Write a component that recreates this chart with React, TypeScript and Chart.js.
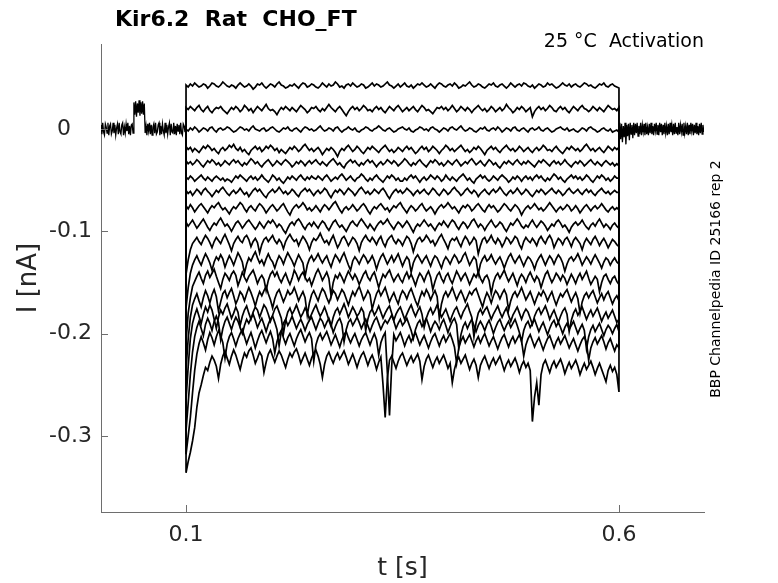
import { useEffect, useRef } from "react";
import { Chart, registerables } from "chart.js";

Chart.register(...registerables);

const FONT = "'DejaVu Sans', sans-serif";
const TEXT_COLOR = "#262626";
const AXIS_COLOR = "#6e6e6e";

const titleText = "Kir6.2  Rat  CHO_FT";
const conditionText = "25 °C  Activation";
const sideText = "BBP Channelpedia ID 25166 rep 2";

const xLimits = [0.0018, 0.6982];
const yLimits = [-0.3744, 0.0831];
const xTicks = [0.1, 0.6];
const xTickLabels = ["0.1", "0.6"];
const yTicks = [-0.3, -0.2, -0.1, 0];
const yTickLabels = ["-0.3", "-0.2", "-0.1", "0\u2007\u2008"];

// holding segments (pA), sampled every 1 ms, before and after the step
const holdPreSpan = [0.0018, 0.0988];
const holdPre = [
  4, -5, 6, -3, -6, 5, 2, -4, 6, -6, 3, 5, -5, -2, 6, -4, 4, -6, 1, 5,
  -5, 6, -3, -5, 4, 6, -6, 2, -4, 5, -2, 6, -5, 3, -6, 4, 5, -4,
  26, 14, 27, 12, 25, 16, 28, 13, 26, 15, 27, 14, 25,
  -4, 3, -6, 5, -2, 6, -5, 4, -6, 2, 5, -4, 6, -5, -3, 4, 6, -6, 3, -5,
  5, -2, -6, 6, -4, 4, -5, 2, 6, -6, 5, -3, -4, 6, -5, 3, -6, 5, -2, 4,
  -5, 6, -4, -6, 5, 3, -3,
];
const holdPostSpan = [0.6, 0.698];
const holdPost = [
  -4, 6, -10, 5, -13, 3, -8, 6, -15, 4, -7, 5, -11, 6, -5, 4, -9, 6, -6, 5,
  -4, 6, -7, 3, -5, 6, -6, 4, -3, 5, -6, 6, -5, 2, -6, 5, -4, 6, -5, 3,
  -6, 5, -2, 6, -5, 4, -6, 6, -3, 5, -6, 4, -5, 6, -4, 3, -6, 5, -5, 6,
  -3, 4, -6, 5, -5, 6, -4, 2, -6, 6, -5, 4, -3, 5, -6, 6, -4, 3, -5, 6,
  -6, 4, -5, 6, -2, 5, -6, 4, -4, 6, -5, 3, -6, 5, -4, 6, -5, 4, -3,
];

// step segments (pA), sampled every 2.5 ms from 0.1 s to 0.6 s
const stepSpan = [0.1, 0.6];
const trace01 = [
  43, 41, 44, 42, 45, 43, 41, 42, 44, 43, 40, 42, 45, 44, 42, 41, 43, 46, 44, 42,
  41, 43, 42, 40, 43, 45, 43, 41, 42, 44, 42, 39, 41, 44, 43, 45, 42, 40, 42, 44,
  43, 41, 44, 46, 43, 42, 40, 41, 43, 42, 44, 42, 40, 43, 45, 44, 41, 42, 44, 43,
  41, 40, 42, 45, 43, 41, 44, 42, 43, 46, 44, 41, 42, 40, 43, 44, 42, 45, 43, 41,
  42, 44, 43, 40, 41, 43, 45, 42, 44, 43, 41, 42, 44, 46, 43, 42, 40, 42, 44, 41,
  43, 45, 42, 41, 43, 40, 42, 44, 43, 45, 43, 41, 42, 44, 42, 40, 43, 45, 44, 42,
  41, 43, 44, 42, 45, 43, 40, 41, 43, 42, 44, 46, 43, 41, 42, 44, 43, 41, 40, 42,
  44, 43, 45, 42, 41, 43, 44, 42, 40, 42, 45, 43, 41, 43, 44, 42, 45, 44, 42, 41,
  43, 40, 42, 44, 43, 41, 42, 45, 43, 44, 42, 40, 41, 43, 45, 43, 42, 44, 41, 43,
  44, 42, 41, 43, 45, 44, 42, 43, 41, 40, 42, 44, 43, 45, 42, 41, 43, 44, 42, 41,
  40,
];
const trace02 = [
  21, 19, 22, 20, 18, 21, 23, 19, 17, 20, 22, 18, 16, 19, 21, 20, 22, 19, 17, 15,
  18, 21, 19, 22, 20, 17, 19, 23, 21, 18, 20, 16, 19, 22, 20, 18, 21, 24, 20, 18,
  19, 17, 14, 18, 21, 19, 22, 20, 18, 21, 19, 17, 20, 23, 21, 19, 16, 18, 21, 20,
  22, 19, 17, 20, 18, 21, 24, 21, 19, 17, 20, 22, 19, 16, 13, 17, 20, 22, 19, 21,
  18, 20, 23, 21, 18, 19, 17, 20, 22, 19, 21, 18, 16, 19, 22, 20, 18, 21, 23, 20,
  17, 19, 21, 18, 20, 22, 19, 17, 20, 23, 21, 18, 19, 17, 15, 18, 21, 20, 22, 19,
  21, 18, 20, 23, 20, 17, 19, 22, 20, 18, 21, 19, 16, 19, 21, 23, 20, 18, 20, 17,
  19, 22, 20, 17, 19, 21, 18, 20, 24, 21, 19, 16, 18, 21, 19, 22, 20, 17, 19, 21,
  12, 17, 20, 22, 19, 21, 18, 20, 23, 21, 18, 17, 20, 22, 19, 21, 18, 16, 19, 22,
  20, 18, 21, 23, 20, 19, 17, 19, 22, 20, 18, 21, 19, 17, 20, 23, 21, 19, 20, 18,
  21,
];
const trace03 = [
  0, -2, 1, -1, 2, 0, -3, -1, 1, 0, -2, 1, 2, -1, -3, 0, 1, -1, 0, 2,
  1, -1, -3, -2, 0, 2, 1, -1, 0, -2, 1, 3, 0, -1, -2, 0, 1, -2, -1, 1,
  2, 0, -2, -3, -1, 1, 0, 2, -1, -2, 0, 1, -1, -3, 0, 2, 1, -1, 0, -2,
  -1, 1, 3, 0, -2, -1, 1, 0, -2, 1, 2, -1, -3, -1, 0, 2, 0, -1, 1, -2,
  -3, -1, 0, 2, 1, -1, -2, 0, 1, 3, 1, -1, -2, 0, 1, -1, -3, -2, 0, 1,
  2, 0, -1, 1, -2, -3, -1, 0, 2, 1, -1, 0, -2, 1, 2, 0, -1, -3, -1, 1,
  0, -2, 1, 2, 0, -1, 1, 3, 0, -2, -1, 1, 0, -2, -3, -1, 1, 0, 2, -1,
  -2, 0, 1, -1, 2, 0, -3, -1, 1, 0, -2, 1, 2, -1, -2, 0, 1, -1, -3, 0,
  1, -1, 0, 2, -1, -2, 0, 1, -1, -3, -2, 0, 1, 2, 0, -1, 1, -2, -1, 0,
  -2, -3, -1, 1, 0, -2, 1, 2, 0, -1, -3, -2, 0, 1, -1, -2, 0, -3, -2, -1,
  -3,
];
const trace04 = [
  -17, -20, -18, -22, -19, -21, -23, -20, -17, -19, -16, -18, -21, -19, -22, -24, -20, -18, -21, -19,
  -16, -18, -15, -19, -21, -18, -22, -20, -23, -25, -21, -19, -17, -20, -18, -22, -20, -17, -19, -16,
  -18, -21, -19, -23, -20, -22, -24, -21, -18, -20, -17, -19, -22, -20, -17, -15, -18, -21, -19, -22,
  -20, -18, -21, -25, -22, -19, -21, -18, -20, -23, -27, -22, -19, -21, -18, -16, -19, -22, -20, -17,
  -19, -22, -24, -21, -18, -20, -17, -19, -21, -23, -20, -18, -16, -19, -22, -20, -23, -21, -18, -20,
  -22, -19, -17, -20, -18, -21, -24, -22, -19, -17, -20, -18, -22, -20, -17, -19, -21, -24, -21, -19,
  -16, -18, -21, -19, -22, -20, -18, -16, -19, -22, -20, -23, -21, -18, -20, -17, -19, -22, -25, -21,
  -19, -17, -20, -18, -21, -23, -20, -18, -16, -19, -21, -19, -22, -20, -17, -19, -22, -20, -18, -21,
  -23, -20, -18, -21, -19, -16, -18, -21, -20, -22, -19, -17, -20, -22, -24, -21, -18, -20, -17, -19,
  -21, -19, -22, -20, -17, -15, -18, -21, -19, -22, -20, -18, -21, -23, -20, -17, -19, -21, -18, -20,
  -18,
];
const trace05 = [
  -31, -34, -32, -35, -33, -30, -32, -35, -37, -34, -31, -33, -30, -32, -35, -33, -36, -34, -31, -33,
  -35, -32, -30, -33, -31, -34, -36, -33, -35, -32, -29, -31, -34, -32, -35, -37, -34, -32, -30, -33,
  -36, -34, -31, -33, -35, -32, -30, -32, -34, -37, -35, -32, -34, -31, -33, -36, -33, -31, -34, -32,
  -30, -33, -35, -32, -34, -36, -33, -31, -29, -32, -35, -33, -36, -38, -34, -32, -30, -33, -31, -34,
  -36, -33, -35, -32, -30, -33, -31, -34, -37, -34, -32, -35, -33, -30, -32, -34, -31, -33, -36, -34,
  -32, -29, -31, -34, -36, -33, -35, -32, -30, -33, -35, -37, -34, -31, -33, -30, -32, -35, -33, -36,
  -34, -31, -33, -35, -32, -30, -33, -36, -34, -32, -34, -31, -29, -32, -35, -33, -31, -34, -36, -33,
  -30, -32, -35, -33, -36, -38, -35, -32, -34, -31, -33, -35, -32, -30, -33, -35, -32, -34, -31, -33,
  -35, -37, -34, -31, -33, -30, -32, -34, -36, -33, -31, -34, -32, -35, -33, -30, -33, -35, -37, -34,
  -32, -34, -31, -33, -36, -34, -32, -30, -33, -35, -32, -34, -36, -33, -31, -33, -35, -33, -36, -34,
  -36,
];
const trace06 = [
  -47, -49, -46, -48, -51, -49, -47, -45, -48, -50, -47, -49, -51, -48, -46, -48, -50, -48, -51, -49,
  -50, -52, -49, -46, -48, -45, -47, -49, -51, -48, -46, -49, -47, -50, -48, -45, -48, -50, -52, -49,
  -45, -47, -50, -48, -51, -53, -50, -47, -49, -46, -48, -50, -47, -45, -48, -50, -47, -49, -46, -48,
  -49, -46, -48, -50, -47, -45, -48, -51, -49, -47, -49, -46, -44, -47, -50, -48, -46, -49, -51, -48,
  -47, -44, -46, -49, -51, -48, -50, -47, -45, -48, -50, -52, -49, -46, -48, -45, -47, -50, -48, -51,
  -51, -48, -50, -47, -45, -48, -46, -49, -52, -49, -47, -50, -48, -45, -47, -49, -46, -48, -51, -49,
  -45, -48, -50, -47, -49, -51, -48, -46, -44, -47, -50, -48, -51, -53, -49, -47, -45, -48, -46, -49,
  -51, -49, -46, -48, -50, -47, -45, -47, -49, -52, -50, -47, -49, -46, -48, -51, -48, -46, -49, -47,
  -50, -47, -45, -48, -46, -49, -51, -48, -50, -47, -44, -46, -49, -47, -50, -52, -49, -47, -45, -48,
  -46, -49, -47, -50, -48, -45, -47, -50, -52, -49, -46, -48, -45, -47, -50, -48, -51, -49, -46, -48,
  -48,
];
const trace07 = [
  -60, -63, -61, -65, -62, -59, -61, -64, -60, -58, -61, -63, -66, -63, -60, -62, -59, -57, -60, -63,
  -65, -62, -60, -63, -61, -58, -61, -64, -62, -66, -63, -60, -58, -61, -59, -62, -65, -67, -63, -61,
  -59, -62, -60, -57, -60, -63, -61, -64, -62, -59, -61, -64, -66, -62, -60, -58, -61, -59, -62, -65,
  -62, -60, -63, -61, -58, -60, -64, -67, -63, -60, -62, -59, -61, -64, -61, -58, -60, -62, -65, -62,
  -59, -57, -60, -63, -61, -64, -62, -59, -61, -63, -60, -58, -61, -65, -68, -64, -61, -59, -62, -60,
  -63, -61, -58, -60, -62, -65, -62, -60, -63, -61, -59, -62, -64, -61, -58, -60, -63, -65, -62, -59,
  -61, -64, -62, -59, -57, -60, -62, -65, -63, -60, -58, -61, -63, -60, -62, -66, -63, -61, -59, -62,
  -64, -61, -59, -62, -60, -57, -60, -63, -65, -62, -60, -63, -61, -58, -61, -64, -62, -59, -61, -64,
  -66, -63, -60, -62, -59, -61, -64, -62, -60, -58, -61, -63, -60, -62, -65, -63, -60, -58, -61, -63,
  -61, -59, -62, -64, -61, -59, -62, -60, -63, -65, -62, -60, -58, -61, -63, -61, -64, -62, -60, -62,
  -62,
];
const trace08 = [
  -75, -78, -74, -77, -81, -78, -75, -73, -76, -79, -82, -78, -75, -77, -74, -72, -76, -79, -77, -80,
  -83, -79, -76, -78, -75, -72, -74, -78, -81, -77, -75, -78, -80, -76, -73, -75, -78, -82, -79, -76,
  -74, -77, -80, -78, -75, -73, -77, -81, -84, -79, -76, -74, -77, -75, -72, -75, -79, -77, -80, -78,
  -75, -78, -81, -77, -74, -76, -79, -76, -73, -71, -75, -79, -82, -78, -76, -79, -77, -74, -77, -80,
  -78, -75, -73, -76, -80, -83, -79, -76, -78, -75, -73, -76, -79, -77, -81, -78, -75, -77, -74, -72,
  -76, -79, -82, -78, -75, -77, -80, -78, -75, -73, -77, -80, -78, -76, -79, -83, -79, -76, -74, -77,
  -75, -72, -75, -78, -76, -79, -82, -78, -75, -77, -74, -76, -80, -78, -75, -73, -76, -79, -81, -77,
  -74, -77, -75, -78, -81, -79, -76, -73, -75, -78, -80, -77, -74, -76, -79, -84, -80, -77, -75, -78,
  -76, -73, -76, -79, -77, -80, -78, -75, -72, -75, -78, -81, -78, -76, -79, -77, -74, -76, -80, -78,
  -75, -78, -82, -79, -76, -74, -77, -80, -77, -75, -78, -76, -73, -76, -79, -81, -78, -76, -79, -77,
  -79,
];
const trace09 = [
  -91, -95, -92, -89, -93, -97, -94, -91, -88, -92, -96, -99, -95, -92, -94, -90, -87, -91, -95, -93,
  -96, -100, -96, -92, -90, -93, -97, -94, -91, -89, -92, -95, -98, -95, -91, -94, -97, -93, -90, -92,
  -89, -92, -96, -93, -95, -99, -102, -97, -93, -91, -94, -90, -88, -91, -95, -98, -94, -92, -95, -91,
  -94, -97, -93, -90, -92, -96, -99, -95, -91, -89, -93, -96, -94, -97, -100, -96, -92, -90, -93, -95,
  -91, -88, -91, -94, -97, -93, -96, -99, -95, -92, -90, -93, -91, -88, -92, -95, -98, -94, -91, -93,
  -96, -93, -90, -93, -97, -101, -96, -93, -95, -92, -89, -92, -95, -93, -96, -99, -95, -92, -94, -90,
  -93, -96, -92, -89, -91, -95, -98, -94, -91, -93, -97, -94, -90, -88, -92, -96, -93, -95, -99, -95,
  -92, -89, -93, -96, -94, -91, -93, -97, -100, -96, -92, -94, -91, -88, -91, -95, -97, -94, -96, -92,
  -89, -93, -96, -93, -90, -92, -95, -99, -96, -93, -95, -91, -89, -92, -96, -94, -97, -101, -96, -93,
  -91, -94, -92, -89, -93, -96, -98, -94, -92, -95, -91, -88, -92, -96, -93, -95, -98, -94, -92, -95,
  -97,
];
const trace10 = [
  -142, -128, -118, -112, -109, -106, -110, -113, -108, -104, -107, -111, -116, -110, -106, -109, -112, -107, -103, -108,
  -113, -119, -112, -108, -105, -109, -111, -106, -104, -108, -115, -110, -107, -111, -121, -113, -108, -106, -110, -107,
  -104, -109, -112, -108, -111, -117, -110, -106, -103, -107, -110, -108, -114, -109, -105, -108, -112, -118, -111, -107,
  -109, -106, -102, -107, -111, -109, -113, -108, -104, -110, -116, -112, -107, -105, -109, -114, -110, -106, -108, -112,
  -119, -111, -107, -104, -108, -110, -106, -109, -113, -108, -105, -111, -115, -109, -106, -104, -109, -112, -108, -110,
  -114, -109, -105, -107, -112, -120, -113, -108, -106, -110, -108, -104, -107, -111, -109, -114, -110, -106, -103, -108,
  -112, -117, -110, -107, -109, -106, -111, -115, -109, -105, -108, -113, -110, -106, -109, -122, -114, -108, -106, -111,
  -108, -104, -109, -112, -107, -110, -115, -111, -106, -108, -112, -109, -105, -107, -113, -117, -110, -106, -109, -111,
  -107, -110, -114, -108, -105, -109, -112, -107, -104, -108, -116, -111, -107, -109, -113, -108, -106, -110, -115, -109,
  -106, -109, -112, -118, -111, -107, -110, -113, -108, -105, -109, -114, -110, -107, -111, -116, -112, -108, -110, -113,
  -115,
];
const trace11 = [
  -175, -155, -141, -133, -128, -124, -129, -133, -127, -122, -126, -131, -138, -130, -125, -128, -123, -127, -135, -129,
  -124, -128, -133, -127, -121, -125, -130, -141, -132, -126, -129, -124, -120, -126, -131, -128, -133, -127, -122, -127,
  -130, -136, -129, -124, -127, -132, -126, -121, -125, -129, -134, -128, -123, -127, -131, -144, -133, -127, -124, -129,
  -126, -122, -127, -131, -127, -124, -130, -135, -128, -123, -126, -130, -125, -121, -127, -133, -138, -129, -125, -128,
  -132, -127, -123, -126, -131, -128, -124, -129, -137, -130, -125, -122, -127, -132, -128, -124, -130, -126, -122, -128,
  -134, -129, -125, -128, -140, -131, -126, -123, -127, -131, -127, -124, -129, -134, -128, -124, -126, -131, -136, -129,
  -125, -128, -132, -127, -123, -126, -131, -129, -124, -121, -127, -133, -129, -125, -128, -142, -132, -127, -124, -129,
  -127, -123, -128, -132, -128, -125, -130, -136, -130, -125, -122, -127, -131, -127, -124, -129, -134, -129, -125, -127,
  -131, -137, -130, -126, -123, -128, -133, -128, -124, -127, -132, -127, -123, -126, -131, -139, -132, -127, -125, -129,
  -126, -122, -127, -133, -129, -125, -128, -132, -127, -123, -127, -131, -136, -130, -126, -128, -133, -129, -126, -130,
  -132,
];
const trace12 = [
  -208, -180, -165, -154, -149, -144, -140, -146, -151, -143, -139, -145, -141, -137, -144, -150, -156, -147, -141, -144,
  -148, -142, -139, -143, -153, -147, -140, -145, -149, -144, -141, -138, -144, -151, -146, -143, -147, -158, -148, -142,
  -139, -144, -140, -146, -150, -145, -141, -147, -152, -146, -138, -142, -148, -143, -140, -145, -149, -146, -153, -147,
  -141, -137, -142, -148, -144, -140, -146, -163, -150, -143, -146, -141, -145, -150, -144, -139, -143, -147, -142, -146,
  -152, -147, -142, -139, -145, -148, -143, -140, -147, -155, -148, -142, -145, -141, -138, -144, -149, -145, -142, -147,
  -150, -144, -140, -146, -142, -147, -153, -146, -141, -144, -149, -143, -139, -145, -157, -149, -143, -140, -146, -150,
  -144, -141, -147, -151, -145, -139, -143, -148, -144, -141, -146, -152, -147, -142, -145, -140, -146, -150, -145, -143,
  -148, -161, -150, -144, -141, -146, -142, -138, -144, -149, -145, -141, -147, -153, -146, -142, -145, -150, -144, -140,
  -145, -149, -144, -147, -155, -148, -142, -139, -145, -150, -146, -141, -144, -148, -143, -146, -152, -147, -142, -146,
  -151, -145, -141, -147, -143, -139, -146, -152, -148, -144, -147, -159, -150, -144, -142, -147, -151, -146, -144, -149,
  -152,
];
const trace13 = [
  -235, -205, -184, -172, -166, -161, -168, -174, -165, -158, -163, -170, -162, -157, -164, -178, -169, -161, -158, -165,
  -160, -156, -163, -171, -166, -159, -162, -168, -161, -155, -160, -166, -173, -165, -159, -163, -158, -154, -161, -167,
  -175, -166, -160, -157, -163, -169, -164, -158, -162, -160, -155, -161, -168, -163, -159, -165, -182, -170, -162, -158,
  -163, -168, -161, -156, -159, -165, -170, -164, -158, -161, -167, -162, -157, -160, -166, -172, -165, -159, -163, -158,
  -154, -160, -167, -163, -158, -162, -176, -168, -161, -157, -163, -159, -155, -162, -169, -164, -160, -166, -171, -163,
  -158, -161, -166, -160, -156, -162, -168, -173, -165, -159, -163, -157, -161, -167, -162, -158, -164, -185, -171, -163,
  -159, -164, -160, -155, -161, -167, -162, -158, -163, -169, -164, -159, -162, -158, -156, -162, -168, -174, -166, -160,
  -164, -170, -163, -158, -161, -166, -161, -157, -162, -177, -168, -162, -159, -164, -160, -155, -161, -167, -163, -159,
  -165, -171, -165, -160, -163, -158, -162, -168, -163, -159, -166, -172, -166, -161, -164, -160, -157, -163, -169, -164,
  -160, -166, -180, -169, -163, -160, -165, -161, -158, -164, -170, -165, -161, -167, -162, -159, -165, -171, -166, -163,
  -168,
];
const trace14 = [
  -265, -232, -205, -190, -182, -176, -183, -190, -181, -174, -179, -172, -177, -186, -195, -184, -177, -181, -175, -171,
  -178, -185, -180, -174, -179, -192, -183, -177, -173, -180, -186, -179, -174, -177, -184, -178, -172, -175, -181, -188,
  -182, -176, -173, -179, -185, -200, -187, -179, -175, -181, -177, -172, -178, -184, -180, -175, -179, -186, -181, -176,
  -172, -178, -183, -179, -174, -180, -187, -193, -184, -178, -175, -181, -176, -171, -177, -184, -179, -174, -178, -183,
  -180, -175, -179, -197, -186, -179, -176, -182, -178, -173, -179, -185, -180, -176, -173, -180, -187, -181, -177, -174,
  -180, -186, -181, -176, -172, -178, -183, -178, -174, -181, -194, -185, -179, -175, -181, -177, -172, -178, -184, -180,
  -176, -182, -188, -182, -177, -174, -180, -185, -179, -175, -171, -178, -184, -203, -189, -180, -176, -181, -177, -174,
  -180, -186, -181, -177, -173, -179, -184, -179, -175, -182, -188, -182, -178, -174, -180, -186, -180, -176, -179, -185,
  -191, -183, -178, -175, -181, -177, -173, -179, -186, -181, -177, -183, -189, -183, -178, -175, -181, -198, -187, -180,
  -176, -182, -178, -174, -180, -186, -181, -177, -183, -179, -175, -181, -188, -183, -179, -185, -181, -177, -183, -189,
  -186,
];
const trace15 = [
  -295, -268, -240, -218, -203, -194, -188, -195, -202, -191, -185, -190, -197, -188, -183, -189, -206, -195, -188, -184,
  -190, -196, -189, -184, -188, -194, -200, -192, -186, -190, -185, -181, -187, -194, -189, -185, -191, -198, -191, -186,
  -183, -189, -196, -212, -198, -190, -186, -192, -188, -183, -189, -195, -190, -186, -191, -197, -191, -187, -184, -190,
  -196, -190, -185, -188, -194, -189, -185, -191, -199, -193, -188, -185, -191, -208, -196, -189, -186, -192, -188, -184,
  -189, -195, -190, -186, -192, -198, -192, -187, -184, -190, -196, -191, -187, -190, -186, -182, -188, -195, -190, -186,
  -192, -189, -185, -191, -197, -205, -196, -190, -187, -193, -189, -185, -191, -198, -192, -188, -191, -196, -190, -186,
  -192, -199, -193, -188, -185, -191, -214, -201, -193, -189, -195, -190, -186, -192, -198, -192, -188, -192, -197, -191,
  -187, -193, -200, -194, -189, -186, -192, -197, -192, -188, -194, -190, -186, -192, -199, -208, -197, -191, -188, -194,
  -190, -186, -192, -198, -193, -189, -195, -201, -195, -190, -187, -193, -189, -194, -200, -194, -190, -196, -192, -188,
  -194, -200, -195, -191, -197, -215, -203, -196, -192, -198, -194, -190, -196, -202, -196, -192, -195, -200, -195, -191,
  -198,
];
const trace16 = [
  -318, -300, -282, -258, -236, -220, -210, -203, -209, -216, -206, -199, -204, -211, -203, -197, -202, -209, -224, -210,
  -203, -199, -205, -212, -205, -200, -196, -203, -210, -204, -199, -206, -214, -207, -201, -197, -203, -209, -203, -198,
  -205, -219, -208, -201, -197, -204, -210, -204, -200, -206, -212, -205, -200, -196, -202, -208, -203, -199, -205, -227,
  -211, -204, -200, -206, -202, -198, -204, -211, -206, -201, -207, -213, -206, -201, -198, -204, -209, -204, -200, -206,
  -212, -206, -202, -199, -205, -211, -205, -200, -206, -221, -209, -203, -199, -238, -280, -232, -201, -207, -203, -199,
  -205, -212, -206, -202, -208, -203, -199, -205, -211, -206, -202, -208, -214, -208, -203, -200, -206, -212, -206, -202,
  -208, -204, -200, -206, -213, -229, -214, -207, -203, -209, -205, -201, -207, -213, -207, -203, -209, -204, -200, -206,
  -212, -207, -203, -209, -215, -209, -204, -201, -207, -213, -207, -203, -209, -205, -201, -207, -222, -211, -205, -201,
  -207, -213, -208, -204, -210, -216, -210, -205, -202, -208, -214, -208, -204, -210, -206, -202, -208, -214, -209, -205,
  -211, -217, -211, -206, -203, -209, -226, -214, -208, -204, -210, -206, -202, -208, -215, -209, -205, -211, -217, -211,
  -214,
];
const trace17 = [
  -336, -325, -316, -305, -292, -272, -258, -250, -241, -233, -236, -228, -222, -226, -232, -244, -230, -222, -217, -224,
  -230, -222, -216, -221, -228, -235, -226, -219, -223, -217, -214, -221, -229, -224, -218, -222, -238, -228, -220, -216,
  -222, -228, -222, -217, -221, -227, -233, -225, -219, -223, -218, -215, -221, -229, -224, -219, -225, -231, -224, -219,
  -216, -222, -230, -243, -230, -222, -218, -224, -229, -223, -219, -225, -221, -217, -223, -230, -225, -220, -226, -233,
  -226, -221, -218, -224, -231, -225, -221, -227, -235, -228, -223, -250, -282, -244, -226, -222, -228, -234, -227, -222,
  -219, -225, -231, -226, -222, -228, -224, -220, -227, -245, -232, -225, -221, -227, -233, -227, -223, -229, -225, -221,
  -227, -234, -229, -248, -235, -227, -223, -229, -225, -221, -228, -235, -229, -225, -231, -243, -231, -226, -222, -228,
  -234, -228, -224, -230, -226, -222, -229, -236, -230, -226, -232, -228, -224, -230, -238, -231, -227, -233, -229, -236,
  -286, -262, -248, -270, -240, -230, -226, -232, -238, -231, -227, -233, -229, -225, -231, -239, -233, -228, -234, -230,
  -226, -232, -240, -234, -229, -235, -231, -227, -233, -240, -234, -229, -235, -241, -247, -236, -231, -237, -233, -240,
  -257,
];

const stepTraces = [
  trace01, trace02, trace03, trace04, trace05, trace06, trace07, trace08, trace09,
  trace10, trace11, trace12, trace13, trace14, trace15, trace16, trace17,
];

// pA values sampled evenly over [start, end] -> points in s / nA
function toPoints(vals: number[], span: number[]) {
  const dt = (span[1] - span[0]) / (vals.length - 1);
  return vals.map((v, i) => ({ x: span[0] + i * dt, y: v / 1000 }));
}

function stepPoints(vals: number[]) {
  return [
    { x: stepSpan[0], y: 0 },
    ...toPoints(vals, stepSpan),
    { x: stepSpan[1], y: 0 },
  ];
}

const annotations = {
  id: "annotations",
  afterDraw(chart: Chart) {
    const { ctx, chartArea } = chart;
    const xs = chart.scales.x;
    const ys = chart.scales.y;
    ctx.save();
    // inward tick marks
    ctx.strokeStyle = AXIS_COLOR;
    ctx.lineWidth = 1;
    ctx.beginPath();
    xTicks.forEach((v) => {
      const px = Math.round(xs.getPixelForValue(v)) + 0.5;
      ctx.moveTo(px, chartArea.bottom);
      ctx.lineTo(px, chartArea.bottom - 7);
    });
    yTicks.forEach((v) => {
      const py = Math.round(ys.getPixelForValue(v)) + 0.5;
      ctx.moveTo(chartArea.left, py);
      ctx.lineTo(chartArea.left + 7, py);
    });
    ctx.stroke();

    ctx.fillStyle = "#000";
    ctx.textBaseline = "alphabetic";
    ctx.textAlign = "left";
    ctx.font = `bold 22px ${FONT}`;
    ctx.fillText(titleText, 115, 26);

    ctx.textAlign = "right";
    ctx.font = `19px ${FONT}`;
    ctx.fillText(conditionText, 704, 47);

    ctx.translate(716, 279);
    ctx.rotate(-Math.PI / 2);
    ctx.textAlign = "center";
    ctx.textBaseline = "middle";
    ctx.font = `14px ${FONT}`;
    ctx.fillText(sideText, 0, 0);
    ctx.restore();
  },
};

export default function App() {
  const canvasRef = useRef<HTMLCanvasElement>(null);
  const chartRef = useRef<Chart | null>(null);

  useEffect(() => {
    document.body.style.margin = "0";
    if (chartRef.current) {
      chartRef.current.destroy();
    }
    if (!canvasRef.current) return;

    const lineStyle = {
      borderColor: "#000",
      pointRadius: 0,
      tension: 0,
      fill: false,
    };

    const datasets = [
      { data: toPoints(holdPre, holdPreSpan), borderWidth: 1.3, ...lineStyle },
      ...stepTraces.map((tr) => ({ data: stepPoints(tr), borderWidth: 1.7, ...lineStyle })),
      { data: toPoints(holdPost, holdPostSpan), borderWidth: 1.3, ...lineStyle },
    ];

    chartRef.current = new Chart(canvasRef.current, {
      type: "line",
      data: { datasets },
      options: {
        animation: false,
        responsive: false,
        devicePixelRatio: 1,
        layout: { padding: { left: 0, top: 44, right: 74, bottom: 0 } },
        plugins: {
          legend: { display: false },
          tooltip: { enabled: false },
        },
        scales: {
          x: {
            type: "linear",
            min: xLimits[0],
            max: xLimits[1],
            grid: { display: false, drawTicks: false },
            border: { display: true, color: AXIS_COLOR, width: 1 },
            afterBuildTicks: (scale: any) => {
              scale.ticks = xTicks.map((v) => ({ value: v }));
            },
            afterFit: (scale: any) => {
              scale.height = 71;
            },
            ticks: {
              autoSkip: false,
              maxRotation: 0,
              padding: 10,
              color: TEXT_COLOR,
              font: { family: FONT, size: 22 },
              callback: (_v: any, i: number) => xTickLabels[i],
            },
            title: {
              display: true,
              text: "t [s]",
              color: TEXT_COLOR,
              font: { family: FONT, size: 25 },
              padding: { top: 1, bottom: 0 },
            },
          },
          y: {
            type: "linear",
            min: yLimits[0],
            max: yLimits[1],
            grid: { display: false, drawTicks: false },
            border: { display: true, color: AXIS_COLOR, width: 1 },
            afterBuildTicks: (scale: any) => {
              scale.ticks = yTicks.map((v) => ({ value: v }));
            },
            afterFit: (scale: any) => {
              scale.width = 101;
            },
            ticks: {
              autoSkip: false,
              padding: 9,
              color: TEXT_COLOR,
              font: { family: FONT, size: 22 },
              callback: (_v: any, i: number) => yTickLabels[i],
            },
            title: {
              display: true,
              text: "I [nA]",
              color: TEXT_COLOR,
              font: { family: FONT, size: 26 },
              padding: { top: 14, bottom: 0 },
            },
          },
        },
      },
      plugins: [annotations],
    });

    return () => {
      if (chartRef.current) {
        chartRef.current.destroy();
        chartRef.current = null;
      }
    };
  }, []);

  return <canvas ref={canvasRef} width={778} height={583} style={{ display: "block" }} />;
}
